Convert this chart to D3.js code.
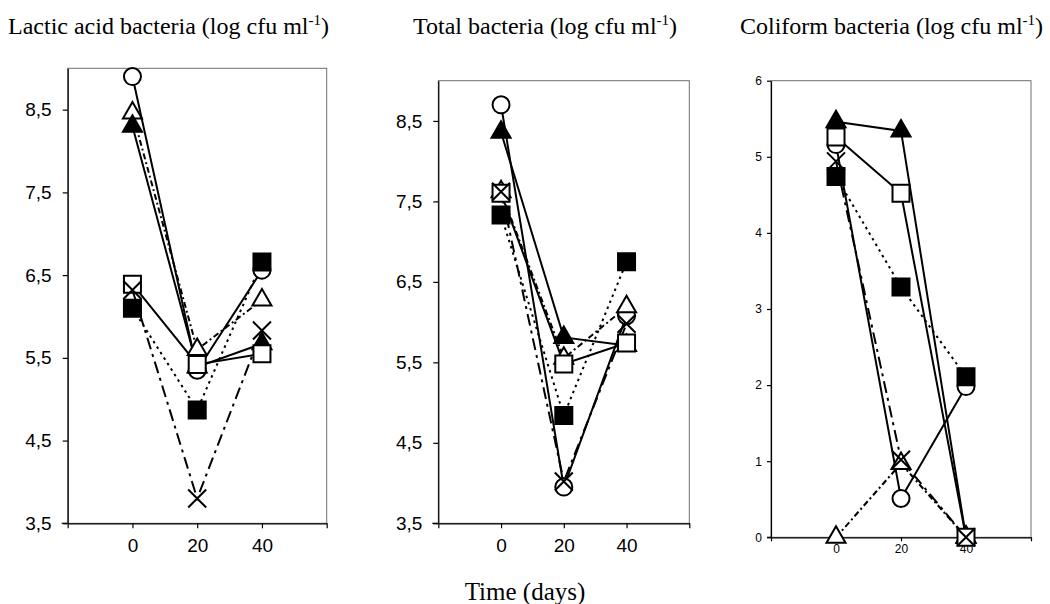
<!DOCTYPE html>
<html><head><meta charset="utf-8">
<script src="https://cdn.jsdelivr.net/npm/d3@7"></script>
<style>body{margin:0;background:#fff}svg{display:block}</style>
</head><body><svg id="c" width="1050" height="604"></svg>
<script>
// ---------- data ----------
const days = [0, 20, 40];
const xTicks = [-20, 0, 20, 40, 60];
const xTickLabels = ["", "0", "20", "40", ""];
const seriesKeys = ["circle", "openTriangle", "filledTriangle", "openSquare", "cross", "filledSquare"];
const panelTitles = ["Lactic acid bacteria (log cfu ml", "Total bacteria (log cfu ml", "Coliform bacteria (log cfu ml"];
const xAxisTitle = "Time (days)";

const lacticValues = [
  [8.90, 5.35, 6.56],
  [8.46, 5.60, 6.20],
  [8.30, 5.39, 5.67],
  [6.39, 5.42, 5.55],
  [6.32, 3.80, 5.83],
  [6.10, 4.87, 6.66]
];
const totalValues = [
  [8.70, 3.95, 6.08],
  [7.62, 5.55, 6.19],
  [8.36, 5.81, 5.71],
  [7.60, 5.48, 5.74],
  [7.62, 4.02, 5.98],
  [7.33, 4.84, 6.75]
];
const coliformValues = [
  [5.16, 0.51, 1.98],
  [0.00, 0.97, 0.00],
  [5.46, 5.34, 0.00],
  [5.26, 4.52, 0.00],
  [4.94, 1.02, 0.00],
  [4.74, 3.29, 2.11]
];
const logTicks = [3.5, 4.5, 5.5, 6.5, 7.5, 8.5];
const logTickLabels = ["3,5", "4,5", "5,5", "6,5", "7,5", "8,5"];
const coliformTicks = [0, 1, 2, 3, 4, 5, 6];
const coliformTickLabels = ["0", "1", "2", "3", "4", "5", "6"];

// ---------- styles ----------
const seriesStyle = {
  circle:         {dash: null,        shape: "circle",   fill: "#fff"},
  openTriangle:   {dash: "6,3,2,3",   shape: "triangle", fill: "#fff"},
  filledTriangle: {dash: null,        shape: "triangle", fill: "#000"},
  openSquare:     {dash: null,        shape: "square",   fill: "#fff"},
  cross:          {dash: "12,5,3,5",  shape: "cross",    fill: "none"},
  filledSquare:   {dash: "2.5,4",     shape: "square",   fill: "#000"}
};

const panels = [
  {values: lacticValues, ticks: logTicks, tickLabels: logTickLabels, ydom: [3.5, 9.0],
   x0: 67.7, x1: 326.7, y0: 523.3, y1: 68.3, fs: 19, titleX: 8, big: true},
  {values: totalValues, ticks: logTicks, tickLabels: logTickLabels, ydom: [3.5, 9.0],
   x0: 438.3, x1: 689.3, y0: 523.3, y1: 80.7, fs: 19, titleX: 413, big: true},
  {values: coliformValues, ticks: coliformTicks, tickLabels: coliformTickLabels, ydom: [0, 6],
   x0: 771, x1: 1031, y0: 537.3, y1: 80.7, fs: 12, titleX: 740, big: false}
];

const svg = d3.select("#c");

function markerPath(shape) {
  if (shape === "circle") {
    const r = 8.5;
    return `M${-r},0A${r},${r} 0 1,0 ${r},0A${r},${r} 0 1,0 ${-r},0Z`;
  }
  if (shape === "triangle") {
    const s = 19, h = s * Math.sqrt(3) / 2;
    return `M0,${-h * 2 / 3}L${s / 2},${h / 3}L${-s / 2},${h / 3}Z`;
  }
  if (shape === "square") {
    const a = 8.5;
    return `M${-a},${-a}H${a}V${a}H${-a}Z`;
  }
  const c = 9;
  return `M${-c},${-c}L${c},${c}M${c},${-c}L${-c},${c}`;
}

panels.forEach((p, pi) => {
  const x = d3.scaleLinear().domain([-20, 60]).range([p.x0, p.x1]);
  const y = d3.scaleLinear().domain(p.ydom).range([p.y0, p.y1]);
  const g = svg.append("g");

  // frame
  g.append("rect").attr("x", p.x0).attr("y", p.y1)
    .attr("width", p.x1 - p.x0).attr("height", p.y0 - p.y1)
    .attr("fill", "none").attr("stroke", "#6e6e6e").attr("stroke-width", 1);

  // axes
  const yAxis = d3.axisLeft(y).tickValues(p.ticks)
    .tickFormat((d, i) => p.tickLabels[i])
    .tickSize(p.big ? 5 : 4).tickSizeOuter(0).tickPadding(p.big ? 11 : 5);
  const ya = g.append("g").attr("transform", `translate(${p.x0},0)`).call(yAxis);
  const xAxis = d3.axisBottom(x).tickValues(xTicks)
    .tickFormat((d, i) => xTickLabels[i])
    .tickSize(p.big ? 5 : 4).tickSizeOuter(0).tickPadding(p.big ? 10 : 3);
  const xa = g.append("g").attr("transform", `translate(0,${p.y0})`).call(xAxis);
  [ya, xa].forEach(a => {
    a.select(".domain").attr("stroke", "#000").attr("stroke-width", 1.2);
    a.selectAll(".tick line").attr("stroke", "#000").attr("stroke-width", 1.2);
    a.selectAll("text").attr("fill", "#000")
      .style("font-family", "Arial, 'Liberation Sans', sans-serif")
      .style("font-size", p.fs + "px");
  });
  g.append("line").attr("x1", p.x0 - (p.big ? 6 : 4)).attr("x2", p.x0)
    .attr("y1", p.y0).attr("y2", p.y0).attr("stroke", "#000").attr("stroke-width", 1.2);

  // lines
  const line = d3.line().x((d, i) => x(days[i])).y(d => y(d));
  seriesKeys.forEach((k, si) => {
    const st = seriesStyle[k];
    g.append("path").datum(p.values[si]).attr("d", line)
      .attr("fill", "none").attr("stroke", "#000").attr("stroke-width", 2)
      .attr("stroke-dasharray", st.dash);
  });
  // markers
  seriesKeys.forEach((k, si) => {
    const st = seriesStyle[k];
    g.selectAll(null).data(p.values[si]).enter().append("path")
      .attr("transform", (d, i) => `translate(${x(days[i])},${y(d)})`)
      .attr("d", markerPath(st.shape))
      .attr("fill", st.fill).attr("stroke", "#000").attr("stroke-width", 2);
  });

  // title
  const t = svg.append("text").attr("x", p.titleX).attr("y", 34)
    .style("font-family", "'Times New Roman', 'Liberation Serif', serif")
    .style("font-size", "24px").attr("fill", "#000");
  t.append("tspan").text(panelTitles[pi]);
  t.append("tspan").attr("dy", -9).style("font-size", "15px").text("-1");
  t.append("tspan").attr("dy", 9).text(")");
});

svg.append("text").attr("x", 525).attr("y", 600).attr("text-anchor", "middle")
  .style("font-family", "'Times New Roman', 'Liberation Serif', serif")
  .style("font-size", "25px").attr("fill", "#000").text(xAxisTitle);
</script>
</body></html>
